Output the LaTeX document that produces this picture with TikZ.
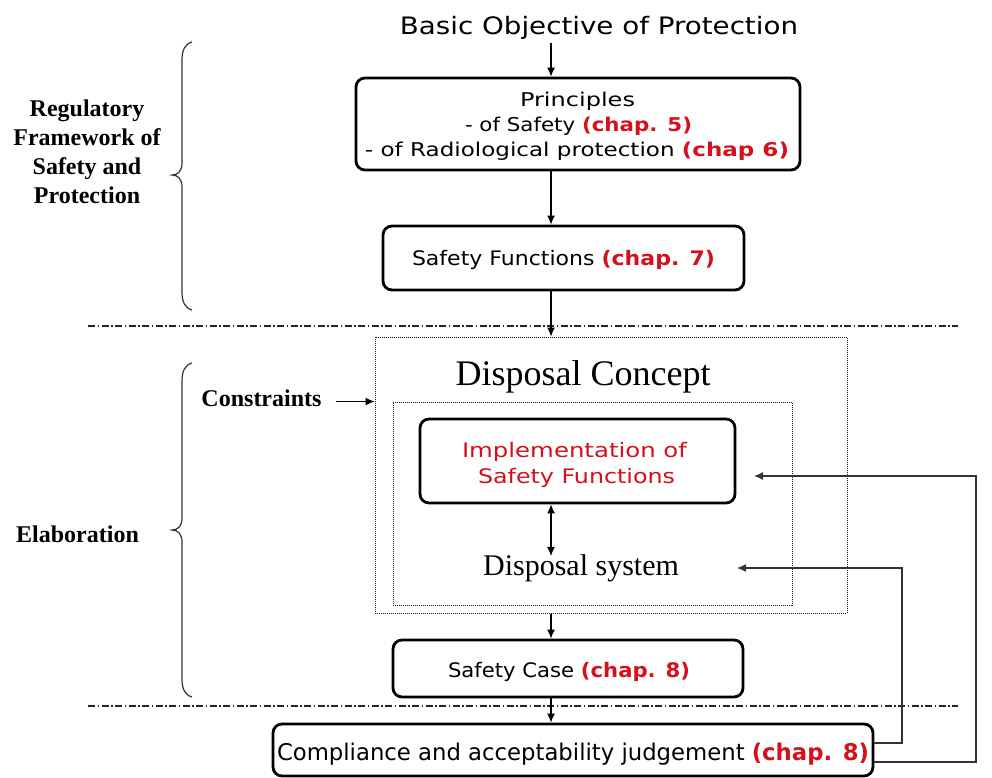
\documentclass[tikz,border=0pt]{standalone}
\usepackage{fontspec}
\setmainfont{Liberation Serif}
\newfontfamily\vsans{DejaVu Sans}
\usetikzlibrary{arrows.meta}
\definecolor{chapred}{RGB}{212,16,28}
\newcommand\fitw[2]{\resizebox{#1pt}{\height}{#2}}
\newcommand\chp[1]{{\bfseries\color{chapred}#1}}
\begin{document}
\begin{tikzpicture}[x=1pt,y=-1pt,
  box/.style={draw=black, line width=2.8pt, rounded corners=9pt, inner sep=0pt},
  dotbox/.style={draw=black!90, line width=1pt, dash pattern=on 1pt off 1pt, inner sep=0pt},
  arr/.style={-{Latex[length=9pt,width=8pt]}, line width=1.2pt},
  fb/.style={-{Latex[length=9pt,width=8pt]}, line width=1.3pt, draw=black!80},
  dd/.style={line width=1.6pt, draw=black!85, dash pattern=on 7pt off 2.5pt on 1.5pt off 2.5pt},
  brc/.style={line width=1.2pt, draw=black!80},
  lbl/.style={inner sep=0pt, anchor=base},
  s19/.style={font=\vsans\fontsize{19}{23}\selectfont},
  s20/.style={font=\vsans\fontsize{20}{24}\selectfont},
  s23/.style={font=\vsans\fontsize{23}{27}\selectfont},
  s24/.style={font=\vsans\fontsize{24}{28}\selectfont},
  serb/.style={font=\bfseries\fontsize{24}{29}\selectfont}
]
\useasboundingbox (0,0) rectangle (992,778);
\fill[white] (0,0) rectangle (992,778);

% boxes
\node[box, minimum width=444pt, minimum height=92pt] (princ) at (578,124) {};
\node[box, minimum width=361pt, minimum height=64pt] (sf) at (563.5,258) {};
\node[dotbox, minimum width=472pt, minimum height=276pt] (outer) at (611,475) {};
\node[dotbox, minimum width=399pt, minimum height=203pt] (inner) at (592.5,503.5) {};
\node[box, minimum width=315pt, minimum height=84pt] (impl) at (577.5,461) {};
\node[box, minimum width=350pt, minimum height=57pt] (sc) at (568,668.5) {};
\node[box, minimum width=600pt, minimum height=52pt] (comp) at (573,750) {};

% texts
\node[lbl, s24] (basic) at (599,34.5) {\fitw{398}{Basic Objective of Protection}};
\node[lbl, s19] (p1) at (577.5,107) {\fitw{115}{Principles}};
\node[lbl, s19] (p2) at (578.5,132) {\fitw{227}{- of Safety \chp{(chap. 5)}}};
\node[lbl, s19] (p3) at (577,157) {\fitw{424}{- of Radiological protection \chp{(chap 6)}}};
\node[lbl, s20] (sft) at (563.5,265) {\fitw{303}{Safety Functions \chp{(chap. 7)}}};
\node[lbl, font=\fontsize{36}{40}\selectfont] (dc) at (583,385) {Disposal Concept};
\node[lbl, s20, text=chapred] (i1) at (574.5,457) {\fitw{225}{Implementation of}};
\node[lbl, s20, text=chapred] (i2) at (576.5,483) {\fitw{197}{Safety Functions}};
\node[lbl, font=\fontsize{30}{34}\selectfont] (ds) at (581,575) {Disposal system};
\node[lbl, s20] (sct) at (569,677) {\fitw{242}{Safety Case \chp{(chap. 8)}}};
\node[lbl, s23] (compt) at (573,760) {\fitw{592}{Compliance and acceptability judgement \chp{(chap. 8)}}};

\node[lbl, serb] (reg) at (87,117) {\begin{tabular}[t]{@{}c@{}}Regulatory\\Framework of\\Safety and\\Protection\end{tabular}};
\node[lbl, serb] (elab) at (77.5,542) {Elaboration};
\node[lbl, serb] (constr) at (261.5,406) {Constraints};

% braces
\draw[brc] (192,42) .. controls (185,44) and (182,50) .. (182,60) -- (182,163)
  .. controls (182,171) and (178,175) .. (172,175)
  .. controls (178,175) and (182,179) .. (182,187) -- (182,292)
  .. controls (182,302) and (185,308) .. (192,310);
\draw[brc] (192,363) .. controls (185,365) and (182,371) .. (182,381) -- (182,518)
  .. controls (182,526) and (178,530) .. (172,530)
  .. controls (178,530) and (182,534) .. (182,542) -- (182,679)
  .. controls (182,689) and (185,695) .. (192,697);

% dash-dot separators
\coordinate (d1a) at (88,326); \coordinate (d1b) at (958,326);
\coordinate (d2a) at (88,706); \coordinate (d2b) at (958,706);
\draw[dd] (d1a) -- (d1b);
\draw[dd] (d2a) -- (d2b);

% main connectors
\coordinate (ax) at (551,0);
\draw[arr] ([yshift=-3pt]basic.south -| ax) -- (princ.north -| ax);
\draw[arr] (princ.south -| ax) -- (sf.north -| ax);
\draw[arr] (sf.south -| ax) -- (outer.north -| ax);
\draw[arr] ([xshift=14pt]constr.east |- inner.north) -- (outer.west |- inner.north);
\draw[{Latex[length=9pt,width=8pt]}-{Latex[length=9pt,width=8pt]}, line width=1.2pt]
  (impl.south -| ax) -- ([yshift=-2pt]ds.north -| ax);
\draw[arr] (outer.south -| ax) -- (sc.north -| ax);
\draw[arr] (sc.south -| ax) -- (comp.north -| ax);

% feedback connectors
\coordinate (f1) at (902,743); \coordinate (t1) at (737,568);
\coordinate (f2) at (976,762); \coordinate (t2) at (754,476);
\draw[fb] (comp.east |- f1) -- (f1) |- (t1);
\draw[fb] (comp.east |- f2) -- (f2) |- (t2);
\end{tikzpicture}
\end{document}
